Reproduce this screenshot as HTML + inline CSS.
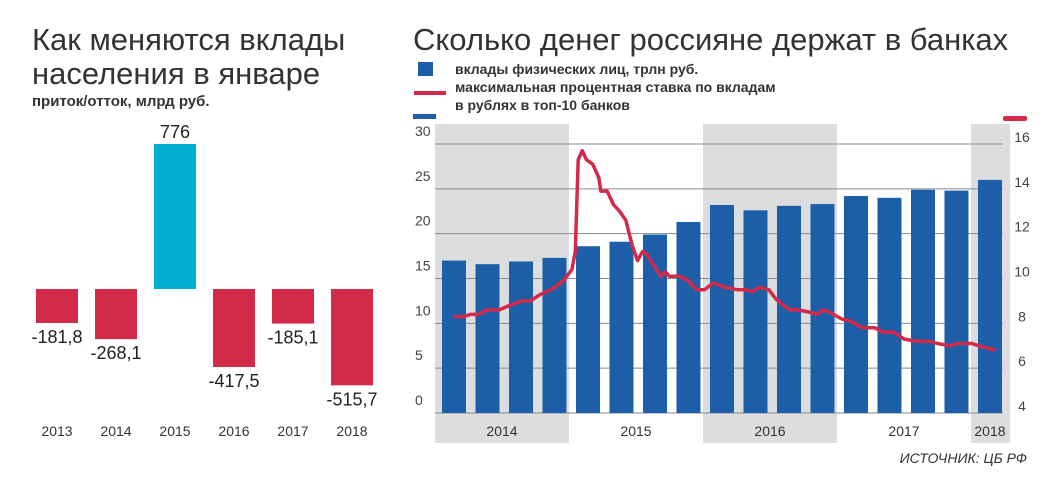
<!DOCTYPE html>
<html><head><meta charset="utf-8"><style>
body{margin:0;background:#fff;width:1051px;height:485px;overflow:hidden;font-family:"Liberation Sans",sans-serif}
svg text{font-family:"Liberation Sans",sans-serif}
</style></head><body>
<svg id="c" width="1051" height="485">
<text x="32" y="50" font-size="31" fill="#333">Как меняются вклады</text>
<text x="32" y="84" font-size="31" fill="#333">населения в январе</text>
<text x="32" y="106" font-size="15" font-weight="bold" fill="#333">приток/отток, млрд руб.</text>
<text x="413" y="50" font-size="31" fill="#333">Сколько денег россияне держат в банках</text>
<rect x="418" y="62" width="15" height="14" fill="#1c5fa8"/>
<text x="455" y="74" font-size="14" font-weight="bold" fill="#333">вклады физических лиц, трлн руб.</text>
<line x1="414" y1="93" x2="446" y2="93" stroke="#d42a4a" stroke-width="4"/>
<text x="455" y="92" font-size="14" font-weight="bold" fill="#333">максимальная процентная ставка по вкладам</text>
<text x="455" y="110" font-size="14" font-weight="bold" fill="#333">в рублях в топ-10 банков</text>
<rect x="413" y="114" width="23" height="5" fill="#1c5fa8"/>
<rect x="1003" y="116" width="24" height="5" rx="2" fill="#d42a4a"/>
<text x="1027" y="463" font-size="14" font-style="italic" fill="#333" text-anchor="end">ИСТОЧНИК: ЦБ РФ</text>
<g id="left"></g><g id="right"></g>
</svg>
<script>
const leftYears=["2013","2014","2015","2016","2017","2018"];
const leftValues=[-181.8,-268.1,776,-417.5,-185.1,-515.7];
const leftLabels=["-181,8","-268,1","776","-417,5","-185,1","-515,7"];
const barValues=[17.0,16.6,16.9,17.3,18.6,19.1,19.9,21.3,23.2,22.6,23.1,23.3,24.2,24.0,24.9,24.8,26.0];
const leftTicks=[0,5,10,15,20,25,30];
const rightTicks=[4,6,8,10,12,14,16];
const yearLabels=["2014","2015","2016","2017","2018"];
const rateMonths=[1.66,2.59,3.15,3.89,4.64,5.75,6.68,7.8,8.54,9.47,10.4,11.5,12.26,12.56,12.82,13.19,13.56,14.12,14.67,14.86,15.42,15.98,16.53,17.09,17.65,18.13,18.58,18.95,19.7,20.25,20.62,21.0,21.9,22.67,23.41,24.15,24.9,26.0,27.1,27.9,28.4,29.0,29.9,30.5,31.2,31.8,32.5,33.5,34.2,34.8,35.3,36.4,37.2,38.3,39.4,40.1,41.1,42.0,43.1,44.2,45.0,46.1,46.8,48.1,48.7,49.4,50.2];
const rateValues=[8.3,8.3,8.4,8.4,8.6,8.6,8.8,9.0,9.0,9.3,9.5,9.9,10.4,11.2,15.3,15.7,15.3,15.1,14.5,13.9,13.9,13.3,13.0,12.6,11.5,10.8,11.2,11.1,10.5,10.1,10.3,10.1,10.1,9.9,9.5,9.5,9.8,9.6,9.5,9.5,9.4,9.6,9.5,9.1,8.8,8.6,8.6,8.5,8.4,8.6,8.5,8.2,8.1,7.8,7.8,7.6,7.6,7.3,7.2,7.2,7.1,7.0,7.1,7.1,7.0,6.9,6.8];
const NS="http://www.w3.org/2000/svg";
function mk(p,t,a){const e=document.createElementNS(NS,t);for(const k in a)e.setAttribute(k,a[k]);p.appendChild(e);return e;}
// left chart
const L=document.getElementById('left');
const lzero=289, lscale=145/776;
const ly=v=>lzero-v*lscale;
leftValues.forEach((v,i)=>{
  const cx=57+i*59;
  const r=mk(L,'rect',{x:cx-21,y:Math.min(ly(v),lzero),width:42,height:Math.abs(v)*lscale,fill:v>0?'#00afd0':'#d42a4a'});
  
  
  const t=mk(L,'text',{x:cx,y:v>0?ly(v)-6:ly(v)+20,'font-size':18,'text-anchor':'middle',fill:'#222'});
  t.textContent=leftLabels[i];
  
  
  const y=mk(L,'text',{x:cx,y:436,'font-size':14,'text-anchor':'middle',fill:'#333'});
  y.textContent=leftYears[i];
  
  
});
// right chart
const R=document.getElementById('right');
const x0=435, pxm=134/12;
const xm=m=>x0+m*pxm;
const yl=v=>413-v*(269/30);
const yr=v=>413-(v-4)*(269/12);
[[0,12],[24,36],[48,51.5]].forEach((b,i)=>{
  const r=mk(R,'rect',{x:xm(b[0]),y:124,width:(b[1]-b[0])*pxm,height:319,fill:'#dcdddf'});
  
  
});
leftTicks.forEach(v=>{
  const g=mk(R,'line',{x1:435,x2:1003,y1:yl(v),y2:yl(v),stroke:'#8a8a8a','stroke-width':1});
  
  
  const t=mk(R,'text',{x:415,y:yl(v)-8,'font-size':14,fill:'#444'});
  t.textContent=v;
  
  
});
rightTicks.forEach(v=>{
  const t=mk(R,'text',{x:1022,y:yr(v)-2,'font-size':14,fill:'#444','text-anchor':'middle'});
  t.textContent=v;
  
  
});
barValues.forEach((v,i)=>{
  const cx=xm(1.7+i*3);
  const r=mk(R,'rect',{x:cx-12,y:yl(v),width:24,height:yl(0)-yl(v),fill:'#1c5fa8'});
  
  
});
yearLabels.forEach((y,i)=>{
  const t=mk(R,'text',{x:i==4?xm(49.7):xm(i*12+6),y:436,'font-size':14,'text-anchor':'middle',fill:'#333'});
  t.textContent=y;
  
  
});
const d=rateMonths.map((m,i)=>(i?'L':'M')+xm(m).toFixed(1)+','+yr(rateValues[i]).toFixed(1)).join(' ');
const p=mk(R,'path',{d:d,fill:'none',stroke:'#d42a4a','stroke-width':3.5,'stroke-linejoin':'round'});


</script>
</body></html>
